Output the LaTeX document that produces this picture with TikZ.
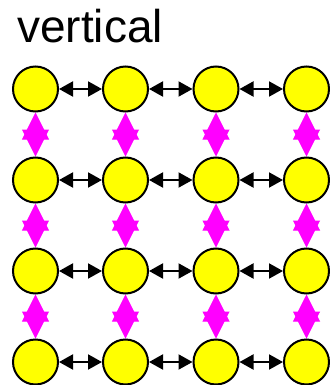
\documentclass[tikz,border=0pt]{standalone}
\usepackage{fontspec}
\setmainfont{Liberation Sans}
\usetikzlibrary{arrows.meta}
\definecolor{ylw}{RGB}{255,255,0}
\definecolor{mag}{RGB}{255,0,255}
\begin{document}
\begin{tikzpicture}[x=1pt,y=-1pt,
  cell/.style={circle,draw=black,fill=ylw,line width=2pt,minimum size=45pt,inner sep=0pt},
  harrow/.style={draw=black,line width=2pt,{Triangle[length=14pt,width=15pt]}-{Triangle[length=14pt,width=15pt]}},
  varrow/.style={draw=mag,line width=1pt,{Triangle[length=27pt,width=27pt]}-{Triangle[length=27pt,width=27pt]}},
  title/.style={anchor=base west,inner sep=0pt,font=\fontsize{46}{50}\selectfont}]
\useasboundingbox (0,0) rectangle (329,385);
\node[title] (t) at (17,43) {vertical};
\foreach \r/\y in {1/89,2/180,3/271,4/362}{
  \foreach \c/\x in {1/35.5,2/125.5,3/216,4/306.5}{
    \node[cell] (n\r\c) at (\x,\y) {};
  }
}
\foreach \r in {1,2,3,4}{
  \foreach \c/\d in {1/2,2/3,3/4}{
    \draw[harrow] (n\r\c.east) -- (n\r\d.west);
  }
}
\foreach \r/\s in {1/2,2/3,3/4}{
  \foreach \c in {1,2,3,4}{
    \draw[varrow] (n\r\c.south) -- (n\s\c.north);
  }
}
\end{tikzpicture}
\end{document}
